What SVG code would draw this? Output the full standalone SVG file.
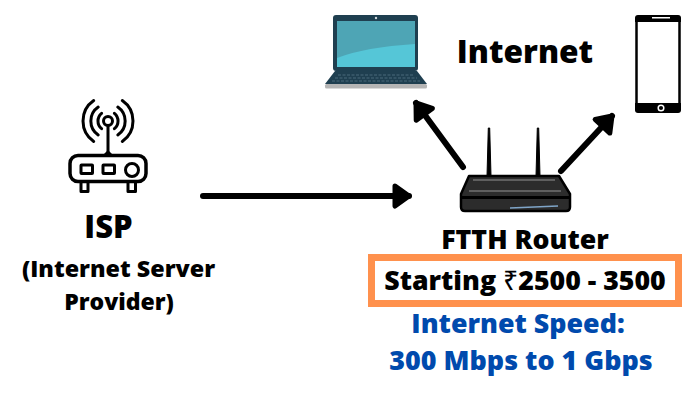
<svg xmlns="http://www.w3.org/2000/svg" width="700" height="400" viewBox="0 0 700 400">
<defs>
<style>
text{font-family:"Open Sans","Noto Sans","DejaVu Sans",sans-serif;font-weight:800;text-anchor:middle;fill:#000}
.blue{fill:#004aad}
.ico{fill:none;stroke:#000;stroke-linecap:round;stroke-linejoin:round}
.conn{fill:none;stroke:#000;stroke-width:6;stroke-linecap:round}
</style>
<marker id="ah" markerUnits="userSpaceOnUse" markerWidth="26" markerHeight="28" refX="18" refY="14" orient="auto">
<path d="M4 4 L18 14 L4 24 Z" fill="#000" stroke="#000" stroke-width="5" stroke-linejoin="round"/>
</marker>
</defs>
<rect width="700" height="400" fill="#fff"/>
<g id="connectors">
<path class="conn" d="M203 196 H409" marker-end="url(#ah)"/>
<path class="conn" d="M463 167 L416 103" marker-end="url(#ah)"/>
<path class="conn" d="M561 171 L612 116" marker-end="url(#ah)"/>
</g>
<g id="laptop">
<rect x="333" y="15" width="85" height="56" rx="3" fill="#1f3f50"/>
<rect x="337" y="21" width="78" height="46" fill="#4ea5b5"/>
<path d="M337 58 Q365 47 415 44 V67 H337 Z" fill="#55c6d7"/>
<circle cx="376" cy="18" r="1.200" fill="#cfd8dc"/>
<path d="M335 71 H417 L427 84 H325 Z" fill="#1f3f50"/>
<path d="M338 75 H414 M335 78 H417 M332 81 H420" stroke="#4b6a7a" stroke-width="1.200" stroke-dasharray="3 1.500" fill="none"/>
<rect x="325" y="84" width="102" height="4.500" rx="1.500" fill="#b5b5b5"/>
</g>
<g id="internet-label"><text x="525" y="63" font-size="31.600">Internet</text></g>
<g id="phone">
<rect x="636.500" y="16.500" width="43" height="95" rx="3" fill="#fff" stroke="#000" stroke-width="2.500"/>
<path d="M635 22 V18 Q635 15 638 15 H678 Q681 15 681 18 V22 Z" fill="#000"/>
<path d="M635 103 V110 Q635 113 638 113 H678 Q681 113 681 110 V103 Z" fill="#000"/>
<rect x="652" y="17" width="18" height="1.500" fill="#fff"/>
<circle cx="661" cy="108" r="2.800" fill="none" stroke="#fff" stroke-width="1.500"/>
</g>
<g id="isp">
<path class="ico" stroke-width="3" d="M108 126 V152"/>
<path d="M103 155 L108 150 L113 155 Z" fill="#000"/>
<circle class="ico" stroke-width="3" cx="108" cy="121" r="4.500"/>
<path class="ico" stroke-width="3" d="M101.600 113.300 A10 10 0 0 0 101.600 128.700 M114.400 113.300 A10 10 0 0 1 114.400 128.700 M98.200 107 A17 17 0 0 0 98.200 135 M117.800 107 A17 17 0 0 1 117.800 135 M93.700 100.500 A25 25 0 0 0 93.700 141.500 M122.300 100.500 A25 25 0 0 1 122.300 141.500"/>
<rect class="ico" stroke-width="3.500" x="70" y="155.500" width="76" height="26" rx="8"/>
<rect class="ico" stroke-width="3" x="81" y="165" width="11.500" height="8.500" rx="0.500"/>
<rect class="ico" stroke-width="3" x="103" y="165" width="11.500" height="8.500" rx="0.500"/>
<circle class="ico" stroke-width="3" cx="132" cy="170" r="6.500"/>
<path class="ico" stroke-width="3" d="M81 183 V191.500 H88 V183 M128 183 V191.500 H135.500 V183"/>
<text x="108.500" y="238" font-size="31">ISP</text>
<text x="118.500" y="277" font-size="23.300">(Internet Server</text>
<text x="119" y="310" font-size="23">Provider)</text>
</g>
<g id="router">
<path d="M487 176 L488.300 128 H489.700 L491 176 Z M536 176 L537.300 128 H538.700 L540 176 Z" fill="#000" stroke="#000" stroke-linejoin="round"/>
<path d="M469 176 H559 L570 194 V207 Q570 211 566 211 H465 Q461 211 461 207 V194 Z" fill="#2c2c2c" stroke="#000" stroke-width="2.500" stroke-linejoin="round"/>
<path d="M461 197.500 H570" stroke="#000" stroke-width="3"/>
<path d="M473 180 H555 M469 191 H561" stroke="#707070" stroke-width="1.300"/>
<path d="M510 208 L558 206" stroke="#7fa5c8" stroke-width="1.500"/>
<text x="525" y="249" font-size="26.700">FTTH Router</text>
</g>
<g id="price">
<rect x="371.500" y="257.500" width="307" height="46" fill="#fff" stroke="#ff914d" stroke-width="7"/>
<text x="525" y="290" font-size="26.700">Starting <tspan font-family="'Noto Sans','DejaVu Sans',sans-serif" font-weight="400">₹</tspan>2500 - 3500</text>
</g>
<g id="speed">
<text class="blue" x="518" y="333" font-size="26.800">Internet Speed:</text>
<text class="blue" x="521" y="370" font-size="26.900">300 Mbps to 1 Gbps</text>
</g>
</svg>
